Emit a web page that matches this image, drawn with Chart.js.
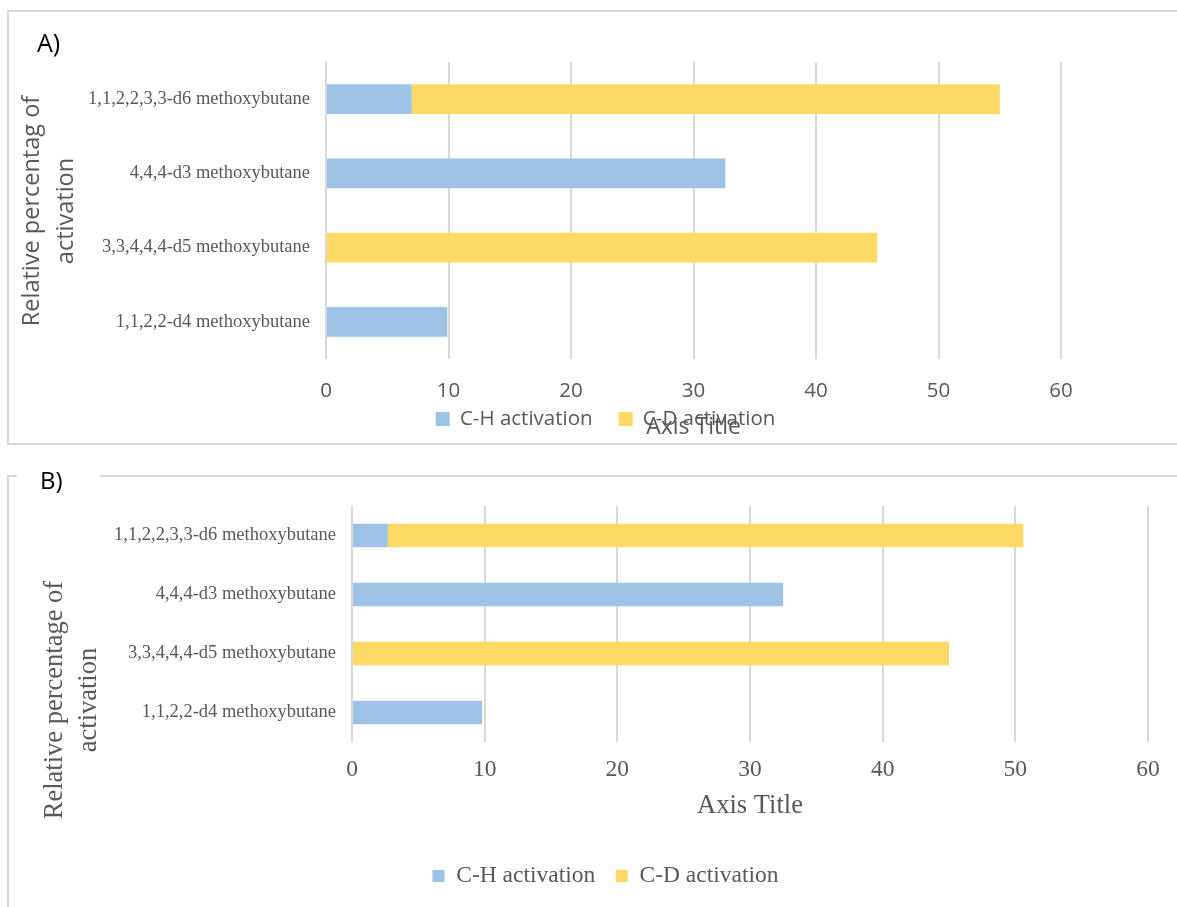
<!DOCTYPE html>
<html>
<head>
<meta charset="utf-8">
<script src="https://cdn.jsdelivr.net/npm/chart.js@4.4.1/dist/chart.umd.min.js"></script>
<style>
  html, body { margin: 0; padding: 0; background: #fff; }
  body { width: 1177px; height: 907px; position: relative; overflow: hidden; }
  .frame { position: absolute; border: 2px solid #d9d9d9; box-sizing: border-box; }
  #frameA { left: 7px; top: 10px; width: 1180px; height: 435px; border-right: none; }
  #frameB { left: 7px; top: 475px; width: 1180px; height: 450px; border-right: none; border-bottom: none; }
  canvas { position: absolute; }
  #chartA { left: 8px; top: 11px; }
  #chartB { left: 8px; top: 476px; }
  .tag { position: absolute; font-family: "Open Sans"; color: #000; background: #fff; }
  #tagA { left: 37px; top: 30px; font-size: 25px; line-height: 25px; }
  #tagB { left: 17px; top: 468px; width: 83px; padding-left: 23px; box-sizing: border-box; font-size: 24px; line-height: 24px; }
  .ytitle { position: absolute; text-align: center; white-space: nowrap; color: #595959; transform: rotate(-90deg); }
  #ytitleA { font-family: "Open Sans"; font-size: 23.5px; line-height: 34px; width: 300px; height: 68px; left: -103px; top: 177px; }
  #ytitleB { font-family: "Liberation Serif"; font-size: 26.5px; line-height: 34px; width: 300px; height: 68px; left: -80px; top: 666px; }
</style>
</head>
<body>
<div class="frame" id="frameA"></div>
<div class="frame" id="frameB"></div>
<canvas id="chartA" width="1169" height="433"></canvas>
<canvas id="chartB" width="1169" height="431"></canvas>
<div class="tag" id="tagA">A)</div>
<div class="tag" id="tagB">B)</div>
<div class="ytitle" id="ytitleA">Relative percentag of<br>activation</div>
<div class="ytitle" id="ytitleB">Relative percentage of<br>activation</div>
<script>
const LABELS = [
  '1,1,2,2,3,3-d6 methoxybutane',
  '4,4,4-d3 methoxybutane',
  '3,3,4,4,4-d5 methoxybutane',
  '1,1,2,2-d4 methoxybutane'
];
const A_CH = [7.0, 32.6, 0, 9.9];
const A_CD = [48.0, 0, 45.0, 0];
const B_CH = [2.7, 32.5, 0, 9.8];
const B_CD = [47.9, 0, 45.0, 0];
const X_MIN = 0, X_MAX = 60, X_STEP = 10;
const AXIS_TITLE = 'Axis Title';

const SERIES = [
  { label: 'C-H activation', color: '#9DC3E6' },
  { label: 'C-D activation', color: '#FFD966' }
];
const GREY = '#595959';

// category labels are clipped to the y scale box; widen that box after layout
const labelRoom = left => ({
  id: 'labelRoom',
  afterLayout: c => { if (left != null) c.scales.y.left = left; }
});

function makeChart(id, ch, cd, o) {
  const ds = (s, data) => ({
    label: s.label, data, backgroundColor: s.color, borderWidth: 0,
    categoryPercentage: 1, barPercentage: 0.4
  });
  return new Chart(document.getElementById(id), {
    type: 'bar',
    data: { labels: LABELS, datasets: [ds(SERIES[0], ch), ds(SERIES[1], cd)] },
    plugins: [labelRoom(o.labelLeft)],
    options: {
      indexAxis: 'y',
      responsive: false,
      animation: false,
      layout: { padding: o.pad },
      plugins: {
        tooltip: { enabled: false },
        legend: {
          position: 'bottom',
          labels: {
            boxWidth: o.box, boxHeight: o.box, padding: o.legendPad,
            color: GREY, font: { family: o.family, size: o.legendSize }
          },
          // empty title, only used to pull the legend row up
          title: { display: o.legendShift !== 0, text: '', font: { size: 10, lineHeight: 0 }, padding: { top: o.legendShift, bottom: 0 } }
        }
      },
      scales: {
        x: {
          stacked: true, min: X_MIN, max: X_MAX,
          ticks: { stepSize: X_STEP, padding: o.tickPad, color: GREY, font: { family: o.family, size: o.tickSize } },
          grid: { color: '#d9d9d9', lineWidth: 2, drawTicks: false },
          border: { display: false },
          title: {
            display: true, text: AXIS_TITLE, color: GREY,
            font: { family: o.family, size: o.titleSize },
            padding: o.titlePad
          }
        },
        y: {
          stacked: true,
          grid: { display: false, drawTicks: false },
          border: { display: false },
          ticks: { padding: 16, color: GREY, font: { family: 'Liberation Serif', size: o.catSize } },
          afterFit: s => { s.width = o.yWidth; }
        }
      }
    }
  });
}

makeChart('chartA', A_CH, A_CD, {
  family: 'Open Sans',
  pad: { left: 142, right: 116, top: 51, bottom: 4.75 },
  yWidth: 176, labelLeft: 60,
  box: 14, legendPad: 26, legendSize: 20.5, legendShift: -22.25,
  tickPad: 20, tickSize: 20.5,
  titleSize: 23, titlePad: { top: -10.4, bottom: -35.8 },
  catSize: 18.5
});

makeChart('chartB', B_CH, B_CD, {
  family: 'Liberation Serif',
  pad: { left: 55, right: 29, top: 30, bottom: 9.25 },
  yWidth: 289, labelLeft: null,
  box: 12, legendPad: 20.5, legendSize: 23.5, legendShift: 0,
  tickPad: 14, tickSize: 23.5,
  titleSize: 26.5, titlePad: { top: -7.6, bottom: 21.35 },
  catSize: 18.5
});
</script>
</body>
</html>
